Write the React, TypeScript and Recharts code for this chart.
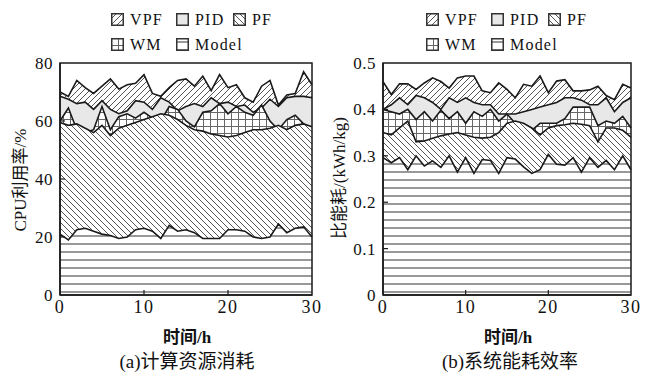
import React from "react";
import { ComposedChart, Area, XAxis, YAxis, ReferenceArea } from "recharts";

// hours 0..30
const hours = [
  0, 1, 2, 3, 4, 5, 6, 7, 8, 9, 10, 11, 12, 13, 14, 15, 16, 17, 18, 19, 20,
  21, 22, 23, 24, 25, 26, 27, 28, 29, 30,
];

// (a) CPU utilisation, %
const cpuVPF = [70, 68.5, 74, 71.5, 69.5, 72, 74.5, 71, 72.5, 73, 76, 69.5, 68.5, 71.5, 74, 74.5, 72, 75.5, 70.5, 76, 71.5, 72.5, 68, 66.5, 72, 74, 65.5, 69, 69.5, 77, 72.5];
const cpuPID = [68.5, 67.5, 66, 66.5, 64, 67, 64, 62.5, 63.5, 67, 66.5, 64, 68, 66.5, 63.5, 65, 66, 65, 68, 66, 66.5, 65, 65.5, 63, 64.5, 67.5, 65, 68, 68.5, 68.5, 68];
const cpuWM = [60, 64.5, 57, 56, 57, 65, 57, 61.5, 62.5, 61, 63, 61, 60, 65, 64, 60, 58, 63, 63.5, 66, 62.5, 65, 63, 62, 65.5, 60, 57, 60.5, 62, 59, 57];
const cpuPF = [59.5, 58.5, 59, 57.5, 56, 58.5, 55, 57.5, 58.5, 59.5, 60.5, 61.5, 62.5, 62, 60.5, 58.5, 57, 56.5, 55.5, 55, 54.5, 55, 56, 57, 57, 57.5, 58.5, 57, 58.5, 59, 58];
const cpuModel = [21, 19, 22.5, 23, 22, 21, 20.5, 19.5, 20, 22.5, 23, 22, 19.5, 24, 22, 22.5, 21.5, 19.5, 19.5, 19.5, 22.5, 22.5, 22, 20, 19.5, 20, 24.5, 21.5, 23, 23.5, 20];

// (b) energy per kg, kWh/kg
const enVPF = [0.46, 0.432, 0.455, 0.455, 0.443, 0.457, 0.468, 0.46, 0.446, 0.468, 0.472, 0.472, 0.44, 0.436, 0.457, 0.443, 0.425, 0.454, 0.45, 0.472, 0.436, 0.461, 0.464, 0.44, 0.44, 0.442, 0.45, 0.43, 0.421, 0.454, 0.446];
const enPID = [0.4, 0.41, 0.425, 0.41, 0.43, 0.425, 0.415, 0.4, 0.425, 0.415, 0.425, 0.415, 0.41, 0.41, 0.39, 0.39, 0.39, 0.395, 0.4, 0.405, 0.41, 0.415, 0.425, 0.425, 0.42, 0.41, 0.41, 0.425, 0.395, 0.415, 0.425];
const enWM = [0.4, 0.395, 0.39, 0.4, 0.378, 0.395, 0.375, 0.398, 0.38, 0.395, 0.37, 0.395, 0.385, 0.4, 0.375, 0.39, 0.37, 0.365, 0.355, 0.37, 0.37, 0.37, 0.38, 0.405, 0.405, 0.405, 0.365, 0.375, 0.37, 0.385, 0.36];
const enPF = [0.35, 0.345, 0.36, 0.375, 0.33, 0.332, 0.338, 0.343, 0.347, 0.35, 0.345, 0.34, 0.338, 0.34, 0.35, 0.37, 0.375, 0.37, 0.36, 0.345, 0.36, 0.365, 0.367, 0.37, 0.368, 0.365, 0.33, 0.36, 0.36, 0.355, 0.34];
const enModel = [0.296, 0.285, 0.296, 0.27, 0.3, 0.278, 0.289, 0.275, 0.3, 0.265, 0.296, 0.262, 0.292, 0.29, 0.262, 0.296, 0.293, 0.276, 0.262, 0.27, 0.303, 0.282, 0.28, 0.296, 0.265, 0.296, 0.275, 0.29, 0.27, 0.3, 0.27];

const xTicks = [0, 10, 20, 30];
const cpuTicks = [0, 20, 40, 60, 80];
const enTicks = [0, 0.1, 0.2, 0.3, 0.4, 0.5];

const FONT = "'Liberation Serif', 'Noto Sans CJK SC', serif";
const LINE = "#1a1a1a";

// drawn back to front: later series cover earlier ones
const order = ["VPF", "PID", "WM", "PF", "Model"];
const pat: Record<string, string> = {
  VPF: "url(#p-vpf)",
  PID: "#e8e8e8",
  WM: "url(#p-wm)",
  PF: "url(#p-pf)",
  Model: "url(#p-model)",
};

const cpuData = hours.map((h, i) => ({
  h,
  VPF: cpuVPF[i],
  PID: cpuPID[i],
  WM: cpuWM[i],
  PF: cpuPF[i],
  Model: cpuModel[i],
}));

const enData = hours.map((h, i) => ({
  h,
  VPF: enVPF[i],
  PID: enPID[i],
  WM: enWM[i],
  PF: enPF[i],
  Model: enModel[i],
}));

function Patterns() {
  return (
    <svg width={0} height={0} style={{ position: "absolute" }}>
      <defs>
        <pattern id="p-vpf" patternUnits="userSpaceOnUse" width={6} height={6}>
          <rect width={6} height={6} fill="#fff" />
          <path d="M-1,1 L1,-1 M0,6 L6,0 M5,7 L7,5" stroke="#555" strokeWidth={1} />
        </pattern>
        <pattern id="p-pf" patternUnits="userSpaceOnUse" width={6} height={6}>
          <rect width={6} height={6} fill="#fff" />
          <path d="M-1,5 L1,7 M0,0 L6,6 M5,-1 L7,1" stroke="#555" strokeWidth={1} />
        </pattern>
        <pattern id="p-wm" patternUnits="userSpaceOnUse" width={7} height={7}>
          <rect width={7} height={7} fill="#fff" />
          <path d="M0,0.5 H7 M0.5,0 V7" stroke="#666" strokeWidth={1} />
        </pattern>
        <pattern id="p-model" patternUnits="userSpaceOnUse" width={8} height={8}>
          <rect width={8} height={8} fill="#fff" />
          <path d="M0,4 H8" stroke="#777" strokeWidth={1.5} />
        </pattern>
      </defs>
    </svg>
  );
}

const XTick = (props: any) => {
  const { x, y, payload } = props;
  const v = payload.value;
  return (
    <g>
      {v > 0 && v < 30 && <line x1={x} x2={x} y1={y} y2={y - 5} stroke={LINE} strokeWidth={1.2} />}
      <text x={x} y={y + 18} textAnchor="middle" fontSize={18} letterSpacing={1.5} fontFamily={FONT} fill="#111">
        {v}
      </text>
    </g>
  );
};

const makeYTick = (max: number) => (props: any) => {
  const { x, y, payload } = props;
  const v = payload.value;
  return (
    <g>
      {v > 0 && v < max && <line x1={x} x2={x + 5} y1={y} y2={y} stroke={LINE} strokeWidth={1.2} />}
      <text x={x - 7} y={y + 6} textAnchor="end" fontSize={17} letterSpacing={0.5} fontFamily={FONT} fill="#111">
        {v}
      </text>
    </g>
  );
};

function Swatch({ fill }: { fill: string }) {
  return (
    <svg width={13} height={13} style={{ display: "block" }}>
      <rect x={0.75} y={0.75} width={11.5} height={11.5} fill={fill} stroke="#333" strokeWidth={1.5} />
    </svg>
  );
}

function LegendItem({ name, sx, tx, cy }: { name: string; sx: number; tx: number; cy: number }) {
  return (
    <>
      <div style={{ position: "absolute", left: sx, top: cy - 6.5 }}>
        <Swatch fill={pat[name]} />
      </div>
      <div
        style={{
          position: "absolute",
          left: tx,
          top: cy - 11,
          height: 22,
          lineHeight: "22px",
          fontSize: 16,
          letterSpacing: 1.2,
          fontFamily: FONT,
          color: "#111",
          whiteSpace: "nowrap",
        }}
      >
        {name}
      </div>
    </>
  );
}

function Legend({ x0 }: { x0: number }) {
  return (
    <>
      <LegendItem name="VPF" sx={x0} tx={x0 + 19} cy={19.5} />
      <LegendItem name="PID" sx={x0 + 65} tx={x0 + 84} cy={19.5} />
      <LegendItem name="PF" sx={x0 + 122} tx={x0 + 141} cy={19.5} />
      <LegendItem name="WM" sx={x0} tx={x0 + 19} cy={44.5} />
      <LegendItem name="Model" sx={x0 + 65} tx={x0 + 84} cy={44.5} />
    </>
  );
}

function Panel(props: {
  data: any[];
  left: number;
  width: number;
  yAxisWidth: number;
  rightMargin: number;
  yMax: number;
  yTicks: number[];
}) {
  const { data, left, width, yAxisWidth, rightMargin, yMax, yTicks } = props;
  return (
    <div style={{ position: "absolute", left, top: 0 }}>
      <ComposedChart
        width={width}
        height={378}
        data={data}
        margin={{ top: 63, right: rightMargin, bottom: 53, left: 0 }}
      >
        <XAxis
          dataKey="h"
          type="number"
          domain={[0, 30]}
          ticks={xTicks}
          height={30}
          tickLine={false}
          tickSize={0}
          tickMargin={0}
          tick={XTick}
          axisLine={{ stroke: LINE, strokeWidth: 1.5 }}
        />
        <YAxis
          type="number"
          domain={[0, yMax]}
          ticks={yTicks}
          width={yAxisWidth}
          tickLine={false}
          tickSize={0}
          tickMargin={0}
          tick={makeYTick(yMax)}
          axisLine={{ stroke: LINE, strokeWidth: 1.5 }}
        />
        {order.map((k) => (
          <Area
            key={k}
            type="linear"
            dataKey={k}
            stroke={LINE}
            strokeWidth={1.6}
            fill={pat[k]}
            fillOpacity={1}
            dot={false}
            activeDot={false}
            isAnimationActive={false}
          />
        ))}
        <ReferenceArea
          x1={0}
          x2={30}
          y1={0}
          y2={yMax}
          fill="none"
          stroke={LINE}
          strokeWidth={1.5}
          ifOverflow="visible"
        />
      </ComposedChart>
    </div>
  );
}

const textStyle: React.CSSProperties = {
  position: "absolute",
  fontFamily: FONT,
  color: "#111",
  whiteSpace: "nowrap",
  transform: "translate(-50%, -50%)",
};

export default function App() {
  return (
    <div
      style={{
        position: "absolute",
        left: 0,
        top: 0,
        width: 649,
        height: 378,
        background: "#fff",
        overflow: "hidden",
      }}
    >
      <Patterns />
      <Panel data={cpuData} left={0} width={325} yAxisWidth={60} rightMargin={13} yMax={80} yTicks={cpuTicks} />
      <Panel data={enData} left={325} width={324} yAxisWidth={58} rightMargin={18} yMax={0.5} yTicks={enTicks} />

      <Legend x0={111} />
      <Legend x0={426} />

      <div style={{ ...textStyle, left: 18, top: 180, fontSize: 17, transform: "translate(-50%, -50%) rotate(-90deg)" }}>
        CPU利用率/%
      </div>
      <div style={{ ...textStyle, left: 337, top: 178, fontSize: 17, transform: "translate(-50%, -50%) rotate(-90deg)" }}>
        比能耗/(kWh/kg)
      </div>

      <div style={{ ...textStyle, left: 187, top: 335, fontSize: 17, fontWeight: 700 }}>时间/h</div>
      <div style={{ ...textStyle, left: 508, top: 335, fontSize: 17, fontWeight: 700 }}>时间/h</div>

      <div style={{ ...textStyle, left: 187, top: 359, fontSize: 19 }}>(a)计算资源消耗</div>
      <div style={{ ...textStyle, left: 510, top: 359, fontSize: 19 }}>(b)系统能耗效率</div>
    </div>
  );
}
